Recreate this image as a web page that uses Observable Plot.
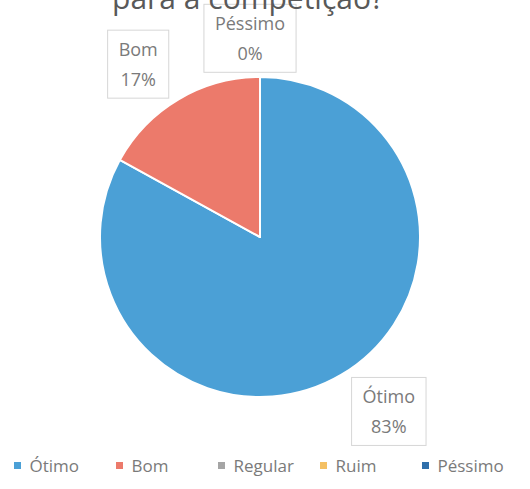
<!DOCTYPE html>
<html>
<head>
<meta charset="utf-8">
<script src="https://cdn.jsdelivr.net/npm/d3@7"></script>
<script src="https://cdn.jsdelivr.net/npm/@observablehq/plot@0.6"></script>
<style>
  body { margin: 0; background: #fff; }
  #wrap { position: relative; width: 530px; height: 489px; overflow: hidden; background: #fff; }
  #title { position: absolute; top: -17px; left: 0; width: 496px; text-align: center;
           font-family: "Open Sans", sans-serif; font-size: 30px; line-height: 1; color: #595959; white-space: nowrap; }
  #chart { position: absolute; top: 0; left: 0; }
  #legend { position: absolute; left: 14px; top: 449px; }
  .lg-swatch { width: 102px !important; margin-right: 0 !important; }
</style>
</head>
<body>
<div id="wrap">
  <div id="chart"></div>
  <div id="title">para a competição?</div>
  <div id="legend"></div>
</div>
<script>
// ---- data ----
const categories = ["Ótimo", "Bom", "Regular", "Ruim", "Péssimo"];
const percents   = [83, 17, 0, 0, 0];
const colors     = ["#4ba0d6", "#ec7a6b", "#a5a5a5", "#f4c063", "#2f6faa"];
const labeled    = ["Ótimo", "Bom", "Péssimo"];

const data = categories.map((c, i) => ({category: c, value: percents[i]}));

// layout nudges for the data-label boxes (Excel "best fit" placement)
const labelNudge = {"Ótimo": [27, 3], "Bom": [-20, 0], "Péssimo": [-10, 2]};

function pie(index, scales, values, dim) {
  const w = dim.width - dim.marginLeft - dim.marginRight;
  const h = dim.height - dim.marginTop - dim.marginBottom;
  const cx = dim.marginLeft + w / 2, cy = dim.marginTop + h / 2;
  const r = Math.min(w, h) / 2;
  const arcs = d3.pie().sort(null).value(d => d.value)(data);
  const g = d3.create("svg:g").attr("transform", `translate(${cx},${cy})`);
  g.append("g").selectAll("path").data(arcs).join("path")
    .attr("d", d3.arc().innerRadius(0).outerRadius(r))
    .attr("fill", d => scales.color(d.data.category))
    .attr("stroke", "#fff").attr("stroke-width", 2).attr("stroke-linejoin", "round");
  const lab = g.append("g").attr("class", "labels")
    .attr("font-family", "Open Sans, sans-serif").attr("font-size", 18).attr("fill", "#7a7a7a");
  for (const a of arcs) {
    if (!labeled.includes(a.data.category)) continue;
    const mid = (a.startAngle + a.endAngle) / 2;
    const [nx, ny] = labelNudge[a.data.category];
    const x = Math.sin(mid) * (r + 40) + nx;
    const y = -Math.cos(mid) * (r + 40) + ny;
    const lg = lab.append("g").attr("class", "lbl").attr("transform", `translate(${x},${y})`);
    lg.append("rect").attr("fill", "#fff").attr("stroke", "#d6d6d6").attr("stroke-width", 1);
    const t = lg.append("text").attr("text-anchor", "middle");
    t.append("tspan").attr("x", 0).attr("y", -15).attr("dy", "0.35em").text(a.data.category);
    t.append("tspan").attr("x", 0).attr("y", 15).attr("dy", "0.35em").text(a.data.value + "%");
  }
  return g.node();
}

const chart = Plot.plot({
  width: 530,
  height: 452,
  marginLeft: 100,
  marginRight: 110,
  marginTop: 77,
  marginBottom: 55,
  x: {axis: null},
  y: {axis: null},
  style: {background: "transparent"},
  color: {type: "ordinal", domain: categories, range: colors},
  marks: [
    Plot.dot(data, {fill: "category", r: 0}),
    pie
  ]
});
document.getElementById("chart").appendChild(chart);

// size label boxes around their text
chart.querySelectorAll(".lbl").forEach(g => {
  const bb = g.querySelector("text").getBBox();
  const px = 11, py = 7;
  const rect = g.querySelector("rect");
  rect.setAttribute("x", bb.x - px);
  rect.setAttribute("y", bb.y - py);
  rect.setAttribute("width", bb.width + 2 * px);
  rect.setAttribute("height", bb.height + 2 * py);
});

const legend = Plot.legend({
  color: {type: "ordinal", domain: categories, range: colors},
  swatchSize: 7,
  className: "lg",
  style: {fontFamily: "Open Sans, sans-serif", fontSize: "17px", color: "#7a7a7a"}
});
document.getElementById("legend").appendChild(legend);
</script>
</body>
</html>
